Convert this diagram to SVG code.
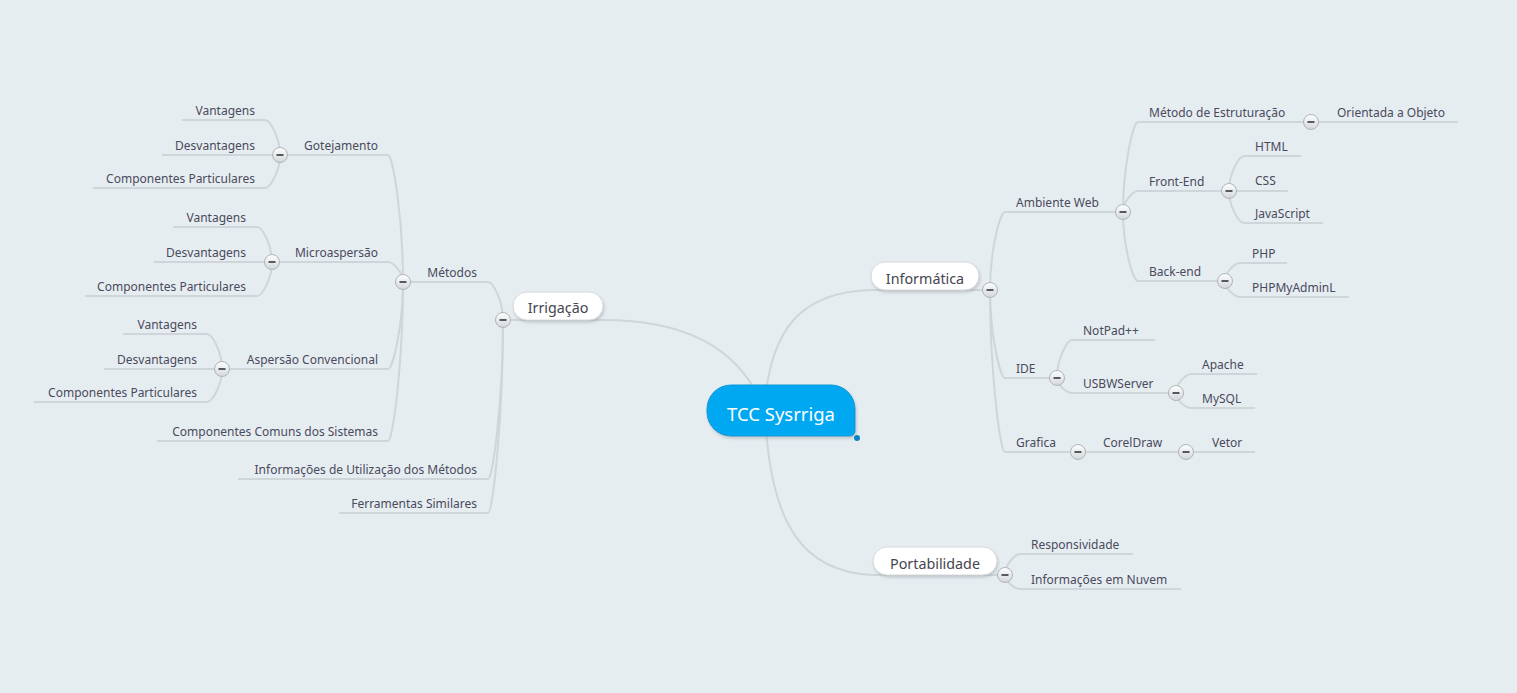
<svg xmlns="http://www.w3.org/2000/svg" width="1517" height="693" viewBox="0 0 1517 693">
<defs>
<style>
.ln{fill:none;stroke:#cfd5d8;stroke-width:2}
.t{font-family:"Noto Sans",sans-serif;font-size:12px;fill:#4a4a5c}
.e{text-anchor:end}
.pt{font-family:"Noto Sans",sans-serif;font-size:14.3px;fill:#45454f;text-anchor:middle}
.pill{fill:#ffffff;stroke:#d6dadc;stroke-width:1;filter:url(#sh)}
.m{fill:#555a5e}
</style>
<linearGradient id="cg" x1="0" y1="0" x2="0" y2="1">
<stop offset="0" stop-color="#ffffff"/>
<stop offset="1" stop-color="#d3d7da"/>
</linearGradient>
<filter id="sh" x="-20%" y="-30%" width="140%" height="180%">
<feDropShadow dx="1" dy="2" stdDeviation="1.5" flood-color="#8d979c" flood-opacity="0.45"/>
</filter>
<g id="btn">
<circle cx="0" cy="0" r="7.5" fill="url(#cg)" stroke="#aeb4b8" stroke-width="1"/>
<rect x="-3.5" y="-1" width="7" height="2" class="m"/>
</g>
</defs>
<rect x="0" y="0" width="1517" height="693" fill="#e6edf1"/>

<g id="connectors">
<path class="ln" d="M603,320 C680,320 735,345 760,400"/>
<path class="ln" d="M871,290 C800,292 772,330 765,400"/>
<path class="ln" d="M873,575 C800,572 773,520 766,430"/>
<path class="ln" d="M503,320 L603,320"/>
<path class="ln" d="M871,290 L990,290"/>
<path class="ln" d="M873,575 L1005,575"/>

<path class="ln" d="M503,320 C503,301 493,282 488,282 L403,282"/>
<path class="ln" d="M503,320 C503,399.5 493,479 488,479 L238,479"/>
<path class="ln" d="M503,320 C503,416.5 493,513 488,513 L339,513"/>

<path class="ln" d="M403,282 C403,218.5 393,155 388,155 L280,155"/>
<path class="ln" d="M403,282 C403,272 393,262 388,262 L272,262"/>
<path class="ln" d="M403,282 C403,325.5 393,369 388,369 L222,369"/>
<path class="ln" d="M403,282 C403,361.5 393,441 388,441 L157,441"/>

<path class="ln" d="M280,155 C280,137.5 270,120 265,120 L182,120"/>
<path class="ln" d="M280,155 L162,155"/>
<path class="ln" d="M280,155 C280,171.5 270,188 265,188 L93,188"/>

<path class="ln" d="M272,262 C272,244.5 262,227 257,227 L173,227"/>
<path class="ln" d="M272,262 L154,262"/>
<path class="ln" d="M272,262 C272,279 262,296 257,296 L85,296"/>

<path class="ln" d="M222,369 C222,351.5 212,334 207,334 L123,334"/>
<path class="ln" d="M222,369 L104,369"/>
<path class="ln" d="M222,369 C222,385.5 212,402 207,402 L34,402"/>

<path class="ln" d="M990,290 C990,251 1000,212 1005,212 L1123,212"/>
<path class="ln" d="M990,290 C990,334 1000,378 1005,378 L1057,378"/>
<path class="ln" d="M990,290 C990,371 1000,452 1005,452 L1078,452"/>

<path class="ln" d="M1123,212 C1123,167 1133,122 1138,122 L1311,122"/>
<path class="ln" d="M1123,212 C1123,201.5 1133,191 1138,191 L1229,191"/>
<path class="ln" d="M1123,212 C1123,246.5 1133,281 1138,281 L1225,281"/>

<path class="ln" d="M1311,122 L1458,122"/>

<path class="ln" d="M1229,191 C1229,173.5 1239,156 1244,156 L1301,156"/>
<path class="ln" d="M1229,191 L1288,191"/>
<path class="ln" d="M1229,191 C1229,207 1239,223 1244,223 L1323,223"/>

<path class="ln" d="M1225,281 C1225,272 1235,263 1240,263 L1287,263"/>
<path class="ln" d="M1225,281 C1225,289 1235,297 1240,297 L1349,297"/>

<path class="ln" d="M1057,378 C1057,359 1067,340 1072,340 L1155,340"/>
<path class="ln" d="M1057,378 C1057,385.5 1067,393 1072,393 L1176,393"/>

<path class="ln" d="M1176,393 C1176,383.5 1186,374 1191,374 L1257,374"/>
<path class="ln" d="M1176,393 C1176,400.5 1186,408 1191,408 L1255,408"/>

<path class="ln" d="M1078,452 L1186,452"/>
<path class="ln" d="M1186,452 L1255,452"/>

<path class="ln" d="M1005,575 C1005,564.5 1015,554 1020,554 L1133,554"/>
<path class="ln" d="M1005,575 C1005,582 1015,589 1020,589 L1181,589"/>
</g>

<g id="root">
<path d="M731,385 H831 A24,24 0 0 1 855,409 V431 A5,5 0 0 1 850,436 H731 A24,24 0 0 1 707,412 V409 A24,24 0 0 1 731,385 Z" fill="#00a8f2" stroke="#0c97d6" stroke-width="1" filter="url(#sh)"/>
<text x="781" y="421" font-family="Noto Sans, sans-serif" font-size="18.5" fill="#ffffff" text-anchor="middle">TCC Sysrriga</text>
<circle cx="857" cy="438" r="3" fill="#0a84c6"/>
</g>

<g id="irrigacao">
<rect class="pill" x="513" y="292" width="90" height="28" rx="14"/>
<text class="pt" x="558" y="313">Irrigação</text>
<use href="#btn" x="503" y="320"/>
</g>
<g id="informatica">
<rect class="pill" x="871" y="262" width="108" height="28" rx="14"/>
<text class="pt" x="925" y="284">Informática</text>
<use href="#btn" x="990" y="290"/>
</g>
<g id="portabilidade">
<rect class="pill" x="873" y="547" width="124" height="28" rx="14"/>
<text class="pt" x="935" y="569">Portabilidade</text>
<use href="#btn" x="1005" y="575"/>
</g>

<g id="metodos"><text class="t e" x="477" y="277">Métodos</text><use href="#btn" x="403" y="282"/></g>
<g id="info-utilizacao"><text class="t e" x="477" y="474">Informações de Utilização dos Métodos</text></g>
<g id="ferramentas"><text class="t e" x="477" y="508">Ferramentas Similares</text></g>

<g id="gotejamento"><text class="t e" x="378" y="150">Gotejamento</text><use href="#btn" x="280" y="155"/></g>
<g id="microaspersao"><text class="t e" x="378" y="257">Microaspersão</text><use href="#btn" x="272" y="262"/></g>
<g id="aspersao"><text class="t e" x="378" y="364">Aspersão Convencional</text><use href="#btn" x="222" y="369"/></g>
<g id="comuns"><text class="t e" x="378" y="436">Componentes Comuns dos Sistemas</text></g>

<g id="got-v"><text class="t e" x="255" y="115">Vantagens</text></g>
<g id="got-d"><text class="t e" x="255" y="150">Desvantagens</text></g>
<g id="got-c"><text class="t e" x="255" y="183">Componentes Particulares</text></g>

<g id="mic-v"><text class="t e" x="246" y="222">Vantagens</text></g>
<g id="mic-d"><text class="t e" x="246" y="257">Desvantagens</text></g>
<g id="mic-c"><text class="t e" x="246" y="291">Componentes Particulares</text></g>

<g id="asp-v"><text class="t e" x="197" y="329">Vantagens</text></g>
<g id="asp-d"><text class="t e" x="197" y="364">Desvantagens</text></g>
<g id="asp-c"><text class="t e" x="197" y="397">Componentes Particulares</text></g>

<g id="ambiente-web"><text class="t" x="1016" y="207">Ambiente Web</text><use href="#btn" x="1123" y="212"/></g>
<g id="ide"><text class="t" x="1016" y="373">IDE</text><use href="#btn" x="1057" y="378"/></g>
<g id="grafica"><text class="t" x="1016" y="447">Grafica</text><use href="#btn" x="1078" y="452"/></g>

<g id="metodo-estr"><text class="t" x="1149" y="117">Método de Estruturação</text><use href="#btn" x="1311" y="122"/></g>
<g id="front-end"><text class="t" x="1149" y="186">Front-End</text><use href="#btn" x="1229" y="191"/></g>
<g id="back-end"><text class="t" x="1149" y="276">Back-end</text><use href="#btn" x="1225" y="281"/></g>

<g id="orientada"><text class="t" x="1337" y="117">Orientada a Objeto</text></g>
<g id="html"><text class="t" x="1255" y="151">HTML</text></g>
<g id="css"><text class="t" x="1255" y="185">CSS</text></g>
<g id="javascript"><text class="t" x="1255" y="218">JavaScript</text></g>
<g id="php"><text class="t" x="1252" y="258">PHP</text></g>
<g id="phpmyadmin"><text class="t" x="1252" y="292">PHPMyAdminL</text></g>

<g id="notpad"><text class="t" x="1083" y="335">NotPad++</text></g>
<g id="usbw"><text class="t" x="1083" y="388">USBWServer</text><use href="#btn" x="1176" y="393"/></g>
<g id="apache"><text class="t" x="1202" y="369">Apache</text></g>
<g id="mysql"><text class="t" x="1202" y="403">MySQL</text></g>

<g id="coreldraw"><text class="t" x="1103" y="447">CorelDraw</text><use href="#btn" x="1186" y="452"/></g>
<g id="vetor"><text class="t" x="1212" y="447">Vetor</text></g>

<g id="responsividade"><text class="t" x="1031" y="549">Responsividade</text></g>
<g id="nuvem"><text class="t" x="1031" y="584">Informações em Nuvem</text></g>
</svg>
